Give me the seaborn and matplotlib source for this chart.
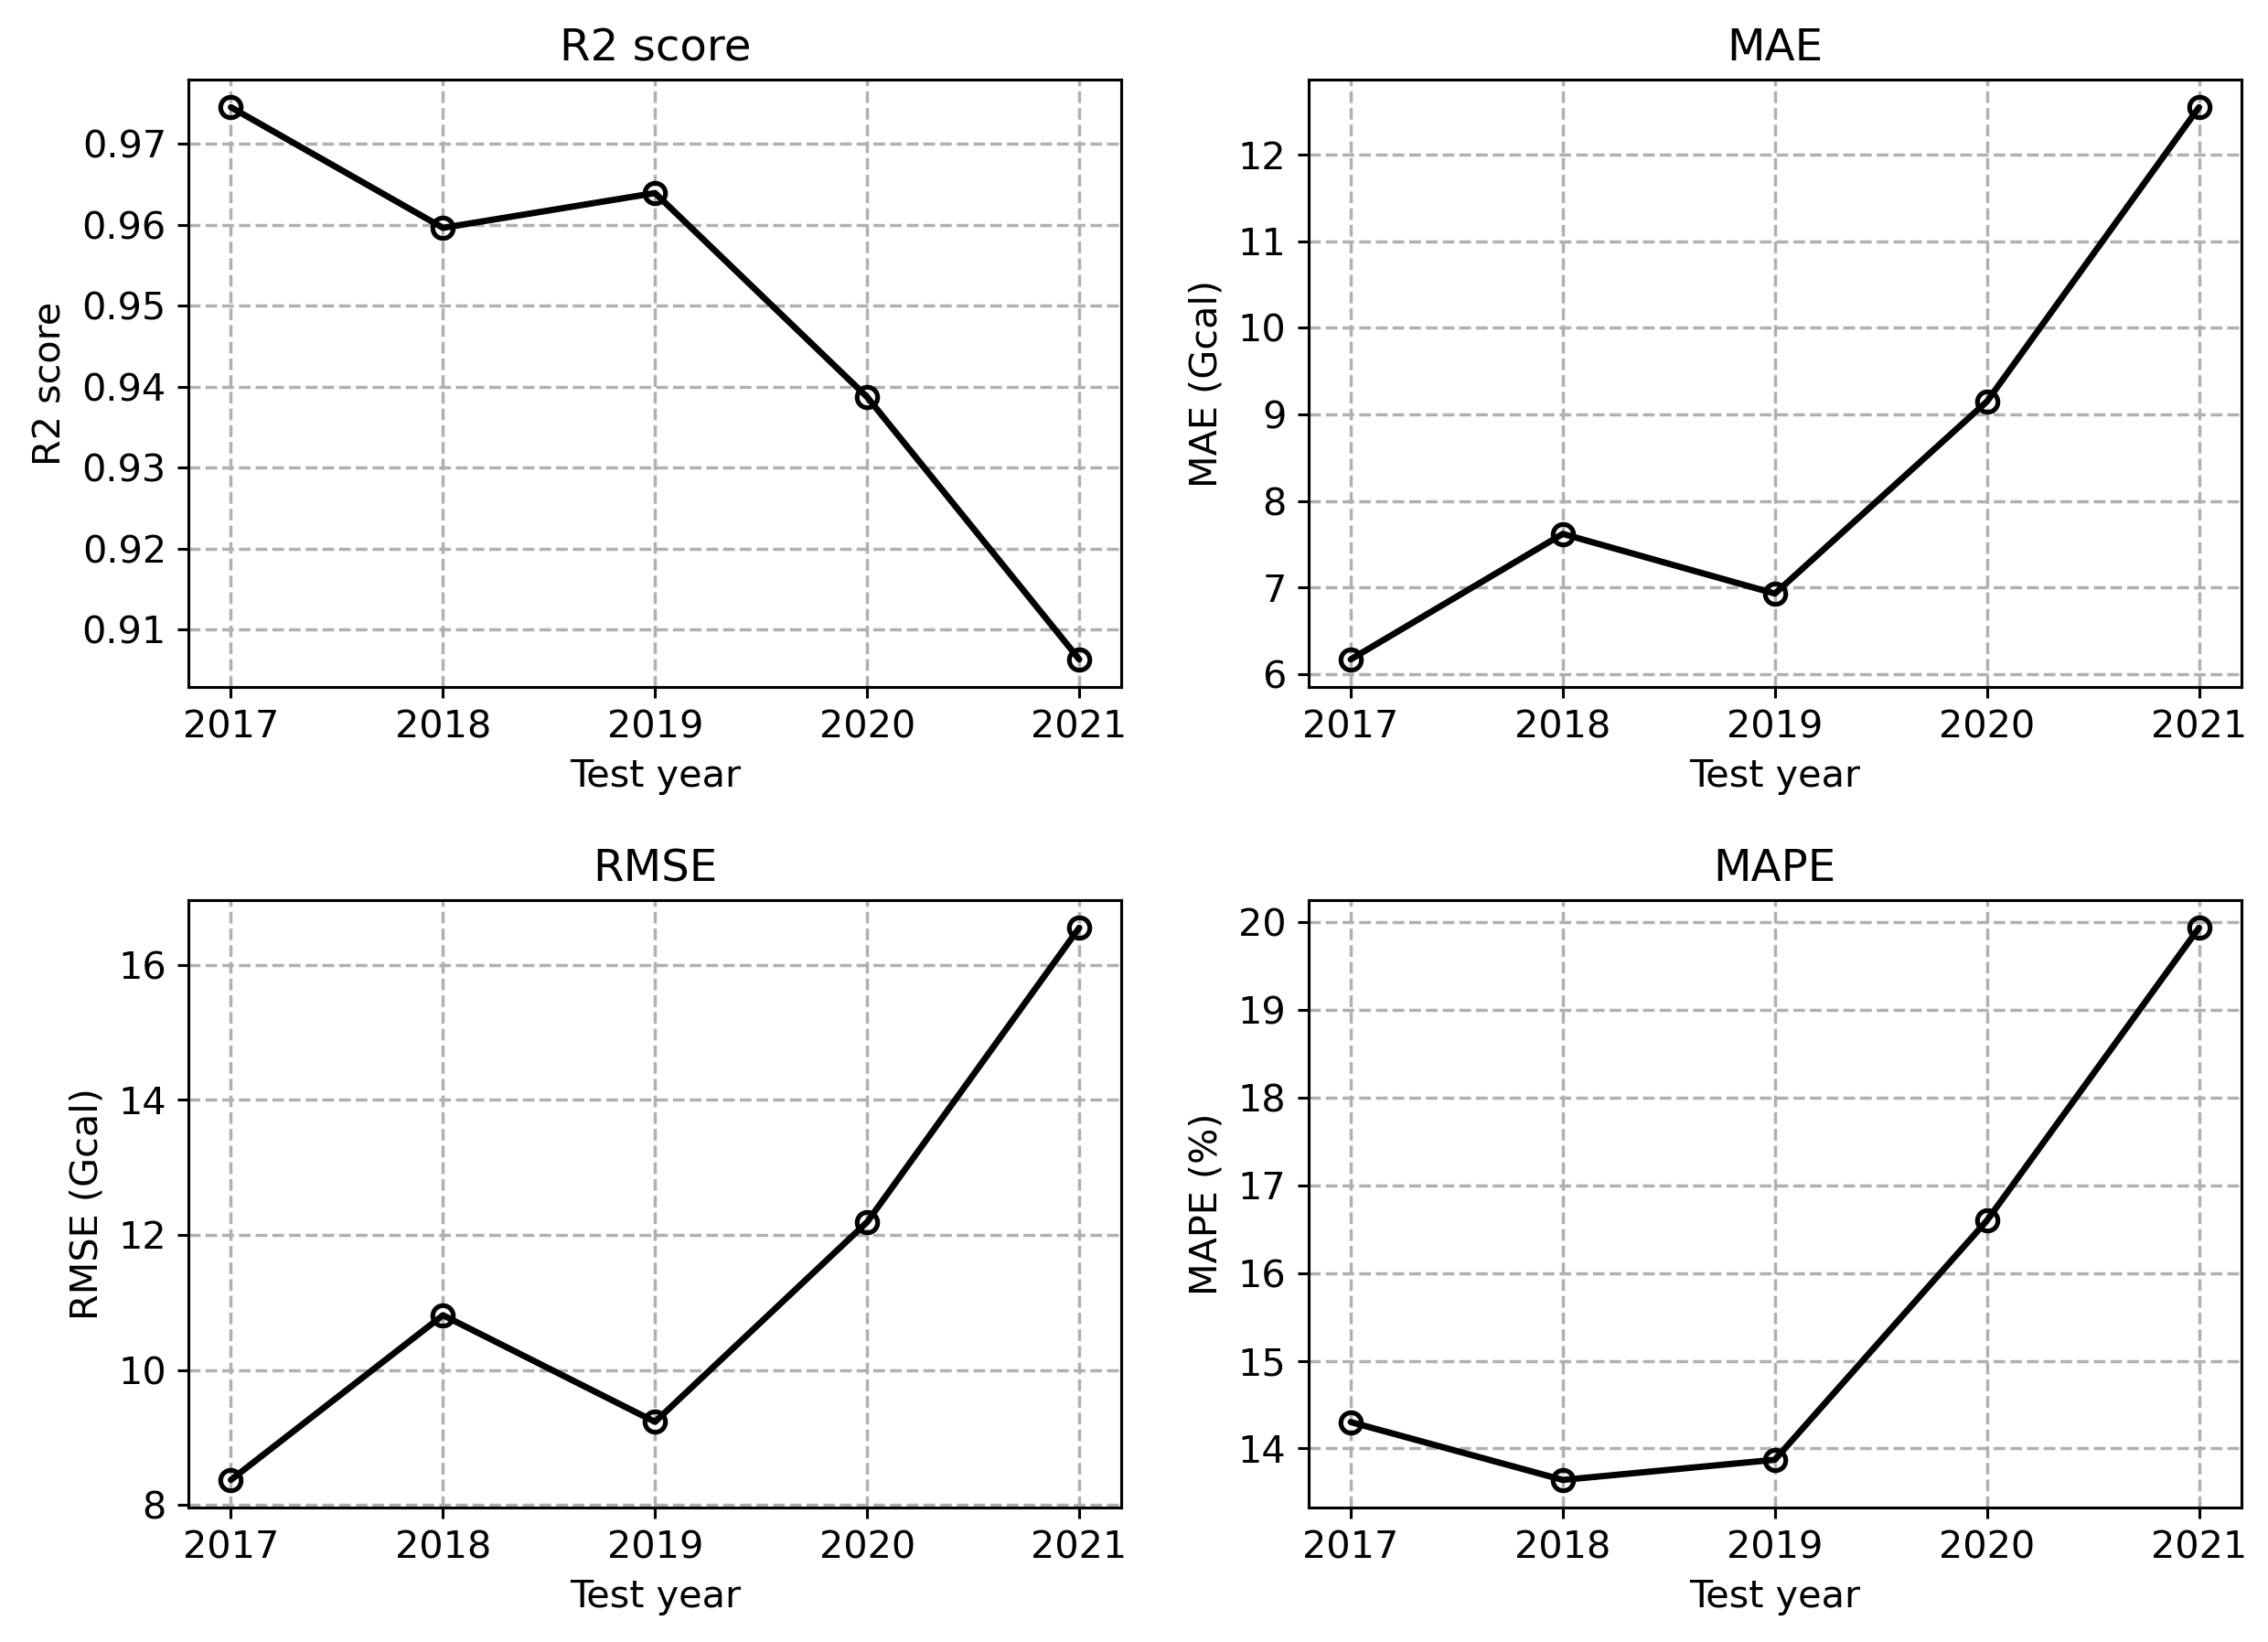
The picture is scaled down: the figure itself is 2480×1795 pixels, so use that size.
import matplotlib
matplotlib.use("Agg")
import matplotlib.pyplot as plt
import seaborn as sns
import pandas as pd

years = [2017, 2018, 2019, 2020, 2021]
r2_values = [0.9745, 0.9596, 0.9639, 0.9387, 0.9063]
mae_values = [6.17, 7.62, 6.93, 9.15, 12.55]
rmse_values = [8.37, 10.81, 9.23, 12.19, 16.55]
mape_values = [14.30, 13.64, 13.87, 16.60, 19.94]

titles = ["R2 score", "MAE", "RMSE", "MAPE"]
ylabels = ["R2 score", "MAE (Gcal)", "RMSE (Gcal)", "MAPE (%)"]
series = [r2_values, mae_values, rmse_values, mape_values]

sns.set_style("ticks")
plt.rcParams['font.family'] = ['DejaVu Sans']
plt.rcParams['text.color'] = 'black'
plt.rcParams['axes.labelcolor'] = 'black'
plt.rcParams['xtick.color'] = 'black'
plt.rcParams['ytick.color'] = 'black'

fig, axes = plt.subplots(2, 2, figsize=(10, 7.238), dpi=248)
fig.subplots_adjust(left=0.0831, right=0.9883, top=0.9515, bottom=0.0819,
                    wspace=0.2, hspace=0.351)
for ax, title, ylab, vals in zip(axes.flat, titles, ylabels, series):
    df = pd.DataFrame({"year": years, "val": vals})
    sns.lineplot(data=df, x="year", y="val", ax=ax, color="black", linewidth=2,
                 marker="o", markersize=6.5, markerfacecolor="none",
                 markeredgecolor="black", markeredgewidth=1.5)
    ax.set_title(title, fontsize=14, color="black")
    ax.set_xlabel("Test year", fontsize=12)
    ax.set_ylabel(ylab, fontsize=12)
    ax.set_xticks(years)
    ax.tick_params(labelsize=12, width=0.9, length=3.5, colors="black")
    ax.grid(True, linestyle="--", color="#b0b0b0", linewidth=1)
    for s in ax.spines.values():
        s.set_visible(True)
        s.set_linewidth(0.9)
        s.set_color("black")

fig.savefig("out.png", dpi=248)
